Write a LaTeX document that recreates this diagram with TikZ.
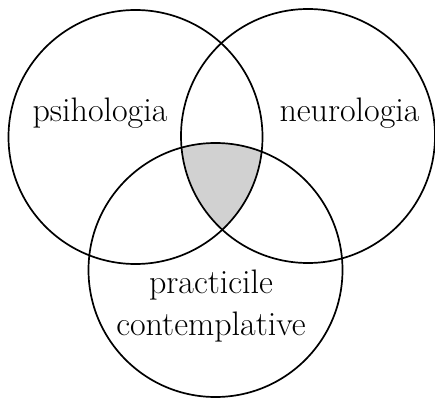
\documentclass[tikz,border=0pt]{standalone}
\begin{document}
\begin{tikzpicture}[x=1pt, y=1pt, set/.style={line width=1.7pt}, setname/.style={font=\fontsize{34}{42}\selectfont, anchor=base}]
	\useasboundingbox (0,0) rectangle (435,399);

	\coordinate (P) at (135.5,262);
	\coordinate (N) at (308,263);
	\coordinate (C) at (215.5,129);

	% common part of the three sets
	\begin{scope}
		\clip (P) circle (127);
		\clip (N) circle (127);
		\fill [black!18] (C) circle (127);
	\end{scope}

	\draw [set] (P) circle (127);
	\draw [set] (N) circle (127);
	\draw [set] (C) circle (127);

	\node [setname] (psi) at (100,277) {psihologia};
	\node [setname] (neuro) at (349.5,277) {neurologia};
	\node [setname] (pract) at (211,106) {practicile};
	\node [setname] (contempl) at (211,64) {contemplative};

\end{tikzpicture}
\end{document}
